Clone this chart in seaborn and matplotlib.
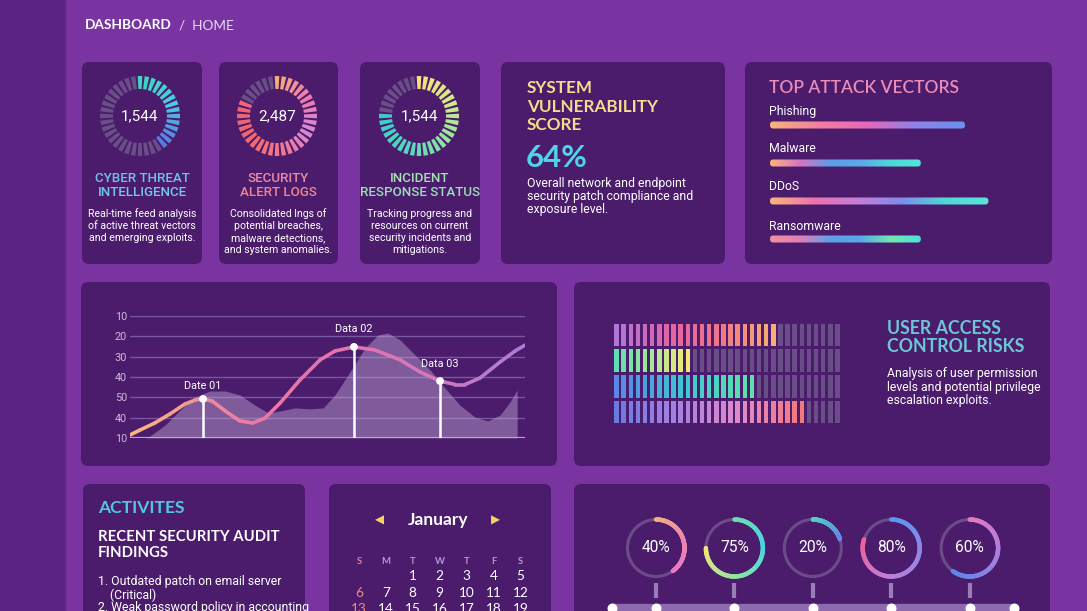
import numpy as np
import matplotlib
matplotlib.use("Agg")
import matplotlib.pyplot as plt
import seaborn as sns
import pandas as pd
from matplotlib.patches import FancyBboxPatch, Rectangle, Circle
from matplotlib.collections import LineCollection
from matplotlib.colors import LinearSegmentedColormap

# ---------------- data ----------------
ring_values = ["1,544", "2,487", "1,544"]
ring_titles = ["CYBER THREAT\nINTELLIGENCE", "SECURITY\nALERT LOGS", "INCIDENT\nRESPONSE STATUS"]
ring_desc = ["Real-time feed analysis\nof active threat vectors\nand emerging exploits.",
             "Consolidated lngs of\npotential breaches,\nmalware detections,\nand system anomalies.",
             "Tracking progress and\nresources on current\nsecurity incidents and\nmitigations."]
ring_segments = 36
ring_filled = [15, 30, 28]

vuln_title = "SYSTEM\nVULNERABILITY\nSCORE"
vuln_score = 64
vuln_desc = "Overall network and endpoint\nsecurity patch compliance and\nexposure level."

attack_vectors = ["Phishing", "Malware", "DDoS", "Ransomware"]
attack_values = [75, 58, 84, 58]

line_x = [0, 2.5, 6.3, 10.1, 13.9, 16.5, 18.5, 20.8, 24.1, 27.8, 31.1, 34.2, 38.0, 43.0,
          48.1, 51.9, 56.7, 62.0, 68.4, 73.4, 78.5, 82.3, 84.8, 88.6, 93.7, 97.5, 100]
line_y = [0.15, 0.39, 0.74, 1.18, 1.67, 1.87, 1.92, 1.82, 1.33, 0.84, 0.74, 0.98, 1.72, 2.85,
          3.84, 4.28, 4.48, 4.33, 3.84, 3.25, 2.80, 2.63, 2.63, 2.95, 3.74, 4.28, 4.57]
area_x = [3.8, 5.1, 8.9, 12.7, 16.5, 20.3, 24.1, 27.8, 31.6, 35.0, 38.0, 41.8, 45.6, 48.9,
          51.9, 55.7, 59.5, 62.8, 65.3, 68.4, 72.2, 76.0, 79.7, 83.5, 87.3, 90.6, 93.7, 96.2, 98.0, 98.0]
area_y = [0.0, 0.1, 0.64, 1.38, 2.02, 2.31, 2.31, 2.12, 1.62, 1.23, 1.33, 1.48, 1.43, 1.48,
          2.12, 3.25, 4.43, 5.07, 5.16, 4.82, 4.08, 3.34, 2.46, 1.62, 1.03, 0.84, 1.13, 1.77, 2.36, 0.0]
point_x = [18.5, 56.7, 78.5]
point_y = [1.92, 4.48, 2.80]
point_labels = ["Date 01", "Data 02", "Data 03"]
ytick_labels = ["10", "40", "50", "40", "30", "20", "10"]

access_title = "USER ACCESS\nCONTROL RISKS"
access_desc = "Analysis of user permission\nlevels and potential privilege\nescalation exploits."
access_total = 32
access_filled = [23, 11, 20, 27]

month = "January"
weekdays = ["S", "M", "T", "W", "T", "F", "S"]
first_weekday = 2
days_shown = 19

audit_items = ["1. Outdated patch on email server", "    (Critical)", "2. Weak password policy in accounting"]

progress_values = [40, 75, 20, 80, 60]

# ---------------- style ----------------
sns.set_style("white")
plt.rcParams['font.family'] = ['Lato', 'DejaVu Sans']
HEAD = ['Lato', 'DejaVu Sans']
BODY = ['Liberation Sans Narrow', 'Roboto', 'DejaVu Sans']
NUM = ['Roboto', 'DejaVu Sans']

MAIN = '#7934A2'
SIDE = '#5B2586'
CARD = '#4B1C6B'
GRAYSEG = '#6A4E88'

W, H = 1087, 611
fig = plt.figure(figsize=(W / 100, H / 100), dpi=100)
bg = fig.add_axes([0, 0, 1, 1])
bg.set_xlim(0, W)
bg.set_ylim(H, 0)
bg.axis('off')
bg.add_patch(Rectangle((0, 0), W, H, color=MAIN, zorder=0))
bg.add_patch(Rectangle((0, 0), 65, H, color=SIDE, zorder=0))


def px_axes(x0, y0, x1, y1, **kw):
    return fig.add_axes([x0 / W, 1 - y1 / H, (x1 - x0) / W, (y1 - y0) / H], **kw)


def grad(stops, n):
    cmap = LinearSegmentedColormap.from_list('g', stops)
    return [cmap(t) for t in np.linspace(0, 1, max(n, 2))][:n]


cards = [(82, 62, 202, 264), (219, 62, 338, 264), (360, 62, 480, 264), (501, 62, 725, 264),
         (745, 62, 1052, 264), (81, 282, 557, 466), (574, 282, 1050, 466),
         (83, 484, 305, 640), (329, 484, 551, 640), (574, 484, 1050, 640)]
for x0, y0, x1, y1 in cards:
    bg.add_patch(FancyBboxPatch((x0, y0), x1 - x0, y1 - y0,
                                boxstyle="round,pad=0,rounding_size=7",
                                fc=CARD, ec='none', zorder=1))

# header
bg.text(85, 25, "DASHBOARD", color='white', fontsize=9.8, fontweight='bold',
        family=HEAD, va='center', ha='left')
bg.text(179, 25, "/  HOME", color='#E8D8F2', fontsize=9.8, family=HEAD, va='center', ha='left')

# ---------------- ring cards ----------------
ring_centers = [(140, 116), (277, 116), (419, 116)]
card_cx = [142, 278.5, 420]
ring_stops = [['#3ED8C2', '#4CC8E2', '#5A7AE4'],
              ['#F7AC78', '#EC7AAE', '#D68AD8', '#F27888', '#F2666C', '#EE6478'],
              ['#F4E27C', '#D4E98A', '#8DE4A2', '#52D6BE', '#3ECCC8']]
title_cols = [['#6EC2EE', '#74C8EC'], ['#EA8AA4', '#F2868A'], ['#A6E2B2', '#9ADDB8']]
for i, (cx, cy) in enumerate(ring_centers):
    R = 41
    pa = px_axes(cx - R, cy - R, cx + R, cy + R, projection='polar')
    pa.set_theta_zero_location('N')
    pa.set_theta_direction(-1)
    pa.axis('off')
    theta = np.arange(ring_segments) * 2 * np.pi / ring_segments
    n = ring_filled[i]
    cols = grad(ring_stops[i], n) + [GRAYSEG] * (ring_segments - n)
    pa.bar(theta, 13, width=2 * np.pi / ring_segments * 0.66, bottom=27, color=cols, lw=0)
    pa.set_ylim(0, R)
    bg.text(cx, cy, ring_values[i], color='white', fontsize=11, family=NUM,
            ha='center', va='center', zorder=5)
    for k, line in enumerate(ring_titles[i].split('\n')):
        bg.text(card_cx[i], 179 + 14 * k, line, color=title_cols[i][k], fontsize=9.6,
                family=NUM, fontweight='medium', ha='center', va='center', zorder=5)
    for k, line in enumerate(ring_desc[i].split('\n')):
        bg.text(card_cx[i], 214 + 12 * k, line, color='white', fontsize=7.6,
                family=BODY, ha='center', va='center', zorder=5)

# ---------------- vulnerability card ----------------
for k, line in enumerate(vuln_title.split('\n')):
    bg.text(527, 88 + 18.5 * k, line, color='#F6DA8E', fontsize=12.3, fontweight='bold',
            family=HEAD, ha='left', va='center', zorder=5)
bg.text(526, 158, f"{vuln_score}%", color='#4ED6E4', fontsize=22.5, fontweight='bold',
        family=HEAD, ha='left', va='center', zorder=5)
for k, line in enumerate(vuln_desc.split('\n')):
    bg.text(527, 183 + 13.5 * k, line, color='white', fontsize=8.8, family=BODY,
            ha='left', va='center', zorder=5)

# ---------------- attack vectors ----------------
bg.text(769, 88, "TOP ATTACK VECTORS", color='#EC8DB8', fontsize=12.5, fontweight='semibold',
        family=HEAD, ha='left', va='center', zorder=5)
av = px_axes(770, 106, 1030, 258)
df_av = pd.DataFrame({'vector': attack_vectors, 'value': attack_values})
sns.barplot(data=df_av, x='value', y='vector', ax=av, color='white', width=0.185)
av.set_xlim(0, 100)
av.set_ylim(3.5, -0.5)
av.axis('off')
bar_stops = [['#F9B47C', '#F27FA0', '#E668B8', '#8C84E8', '#6A92EE'],
             ['#F9B47C', '#D874C0', '#5E9EE8', '#5AA8E8', '#4ED8D8', '#52E6D8'],
             ['#F9B47C', '#EE72AE', '#C47ED8', '#7E8CEA', '#50D8D8', '#58E6D8'],
             ['#F292A0', '#E07EB8', '#5EA0E8', '#58A8E8', '#72E6B0', '#4EE0E0']]
xu = 100 / 260
yu = 4 / 152
for i, p in enumerate(av.patches):
    x, y, w, h = p.get_x(), p.get_y(), p.get_width(), p.get_height()
    p.set_visible(False)
    rp = FancyBboxPatch((x, y), w, h, boxstyle=f"round,pad=0,rounding_size={3.3 * xu}",
                        mutation_aspect=yu / xu, fc='none', ec='none', transform=av.transData)
    av.add_patch(rp)
    cmap = LinearSegmentedColormap.from_list('b', bar_stops[i])
    img = np.linspace(0, 1, 256).reshape(1, -1)
    im = av.imshow(img, cmap=cmap, extent=[x, x + w, y + h, y], aspect='auto', zorder=3)
    im.set_clip_path(rp)
av.set_xlim(0, 100)
av.set_ylim(3.5, -0.5)
label_y = [112, 148, 187, 227]
for i, lab in enumerate(attack_vectors):
    bg.text(769, label_y[i], lab, color='white', fontsize=8.8, family=BODY,
            ha='left', va='center', zorder=5)

# ---------------- line chart ----------------
lx = px_axes(130, 316, 525, 438)
lx.patch.set_alpha(0)
for s in lx.spines.values():
    s.set_visible(False)
for k in range(1, 7):
    lx.axhline(k, color='#7856A2', lw=1, zorder=1)
lx.axhline(0, color='#B8A2CC', lw=1.6, zorder=2)
lx.fill_between(area_x, area_y, 0, color='#C0AAD6', alpha=0.45, lw=0, zorder=2)
pts = np.column_stack([line_x, line_y])
segs = np.stack([pts[:-1], pts[1:]], axis=1)
lcmap = LinearSegmentedColormap.from_list('l', ['#F6B87E', '#F0909A', '#EC78A6', '#E872AC',
                                                '#D078BE', '#A97CDC'])
lcols = [lcmap(t) for t in np.linspace(0, 1, len(segs))]
lx.add_collection(LineCollection(segs, colors=lcols, lw=2.6, capstyle='round', zorder=3))
lx.vlines(point_x, 0, point_y, color='white', lw=1.8, zorder=4)
sns.scatterplot(x=point_x, y=point_y, color='white', s=32, edgecolor='none', ax=lx, zorder=5)
label_off = [6, 9.5, 8.5]
for i, lab in enumerate(point_labels):
    lx.annotate(lab, (point_x[i], point_y[i]), xytext=(0, label_off[i]),
                textcoords='offset points', ha='center', va='bottom', color='white',
                fontsize=7.8, family=NUM, zorder=6)
lx.set_xlim(0, 100)
lx.set_ylim(0, 6)
lx.set_xticks([])
lx.set_yticks(range(7))
lx.set_yticklabels(ytick_labels, family=NUM)
lx.tick_params(axis='y', length=0, pad=2, labelcolor='#CDB8DE', labelsize=7.8)
lx.set_xlabel('')
lx.set_ylabel('')

# ---------------- user access risks ----------------
ua = px_axes(613, 322, 841, 425)
ua.axis('off')
row_stops = [['#B076D8', '#E064A4', '#F07686', '#F6AE72'],
             ['#5EE0B4', '#A8E892', '#F0EA78'],
             ['#5A86E8', '#3CC8D2', '#5EE2A8'],
             ['#6A7AE2', '#A880E0', '#E08AC8', '#F27A7A']]
cols_idx = np.arange(access_total)
for r, nfill in enumerate(access_filled):
    cc = grad(row_stops[r], nfill) + [GRAYSEG] * (access_total - nfill)
    ua.bar(cols_idx, 0.88, bottom=r - 0.44, width=0.64, color=cc, lw=0)
ua.set_xlim(-0.5, access_total - 0.5)
ua.set_ylim(3.5, -0.5)
for k, line in enumerate(access_title.split('\n')):
    bg.text(887, 328 + 18.5 * k, line, color='#6CC6D6', fontsize=12.8, fontweight='bold',
            family=HEAD, ha='left', va='center', zorder=5)
for k, line in enumerate(access_desc.split('\n')):
    bg.text(887, 374 + 13.2 * k, line, color='white', fontsize=8.8, family=BODY,
            ha='left', va='center', zorder=5)

# ---------------- activities ----------------
bg.text(98, 508, "ACTIVITES", color='#52C6E0', fontsize=12.6, fontweight='bold',
        family=HEAD, ha='left', va='center', zorder=5)
bg.text(98, 537, "RECENT SECURITY AUDIT", color='white', fontsize=10.7, fontweight='bold',
        family=HEAD, ha='left', va='center', zorder=5)
bg.text(98, 553, "FINDINGS", color='white', fontsize=10.7, fontweight='bold',
        family=HEAD, ha='left', va='center', zorder=5)
for k, item in enumerate(audit_items):
    bg.text(98, 582 + 13 * k, item, color='white', fontsize=8.8, family=BODY,
            ha='left', va='center', zorder=5)

# ---------------- calendar ----------------
bg.text(438, 520, month, color='white', fontsize=12.5, fontweight='bold', family=HEAD,
        ha='center', va='center', zorder=5)
bg.text(379, 520, "\u25C0", color='#F4D35E', fontsize=8.5, family=['DejaVu Sans'],
        ha='center', va='center', zorder=5)
bg.text(495, 520, "\u25B6", color='#F4D35E', fontsize=8.5, family=['DejaVu Sans'],
        ha='center', va='center', zorder=5)
col_x = [359 + 26.9 * c for c in range(7)]
for c, wd in enumerate(weekdays):
    bg.text(col_x[c], 561, wd, color='#E27D95' if c == 0 else '#B596CF', fontsize=6.8,
            family=HEAD, fontweight='bold', ha='center', va='center', zorder=5)
for d in range(1, days_shown + 1):
    idx = first_weekday + d - 1
    c, r = idx % 7, idx // 7
    bg.text(col_x[c], 576 + 16.6 * r, str(d), color='#EE8A8A' if c == 0 else 'white',
            fontsize=9.8, family=HEAD, ha='center', va='center', zorder=5)

# ---------------- progress circles ----------------
u = 78.4
pc = px_axes(574, 484, 1050, 611)
pc.axis('off')
cy = (548 - 484) / u
rad = 28.5 / u
prog_stops = [['#F6B078', '#EE88B0', '#E878C4'],
              ['#6FDDB0', '#48D4E0', '#8EE6A0', '#F2E47A'],
              ['#4ED8C0', '#6888E8'],
              ['#5A98EE', '#8C86E8', '#C080D8', '#F0609A'],
              ['#E878C0', '#A880E0', '#5C86E8']]
positions = np.arange(len(progress_values))
for i, v in enumerate(progress_values):
    pc.add_patch(Circle((i, cy), rad, fill=False, ec='#6B4C88', lw=2.2, zorder=2))
    th = np.linspace(0, 2 * np.pi * v / 100, 120)
    p2 = np.column_stack([i + rad * np.sin(th), cy - rad * np.cos(th)])
    sg = np.stack([p2[:-1], p2[1:]], axis=1)
    pcm = LinearSegmentedColormap.from_list('p', prog_stops[i])
    pc.add_collection(LineCollection(sg, colors=[pcm(t) for t in np.linspace(0, 1, len(sg))],
                                     lw=3.2, capstyle='round', zorder=3))
    pc.text(i, cy, f"{v}%", color='white', fontsize=11.2, family=NUM,
            ha='center', va='center', zorder=5)
pc.vlines(positions, (583 - 484) / u, (598 - 484) / u, color='#9A7CB8', lw=3, zorder=2)
tl_x = [(612 - 656) / u] + list(positions) + [(1014 - 656) / u]
pc.hlines((608 - 484) / u, tl_x[0], tl_x[-1], color='#8E6BAE', lw=6, zorder=2)
pc.scatter(tl_x, [(608 - 484) / u] * len(tl_x), s=52, color='white', zorder=5, lw=0)
pc.set_xlim((574 - 656) / u, (1050 - 656) / u)
pc.set_ylim(127 / u, 0)

fig.savefig("out.png", dpi=100, facecolor=MAIN)
